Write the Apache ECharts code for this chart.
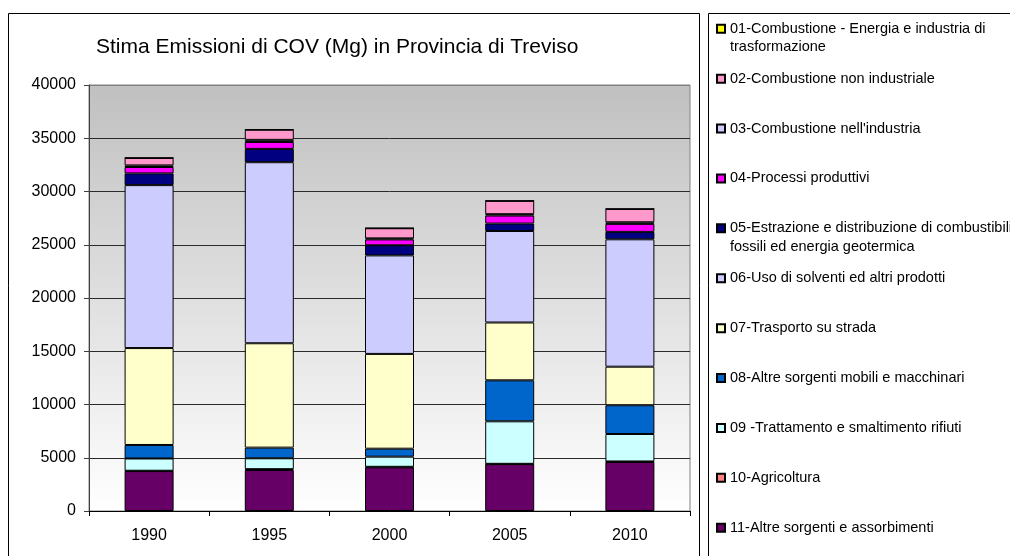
<!DOCTYPE html>
<html>
<head>
<meta charset="utf-8">
<script src="https://cdn.jsdelivr.net/npm/echarts@6/dist/echarts.min.js"></script>
<style>
  html, body { margin: 0; padding: 0; background: #ffffff; }
  #chart { width: 1010px; height: 556px; }
</style>
</head>
<body>
<div id="chart"></div>
<script>
  // anni e valori (Mg)
  const years = ['1990', '1995', '2000', '2005', '2010']
  const s01 = [20, 20, 20, 20, 20]
  const s02 = [700, 950, 950, 1250, 1250]
  const s03 = [150, 200, 100, 130, 150]
  const s04 = [600, 650, 550, 750, 750]
  const s05 = [1100, 1250, 950, 700, 700]
  const s06 = [15300, 17000, 9250, 8590, 11960]
  const s07 = [9100, 9800, 8900, 5430, 3620]
  const s08 = [1270, 1000, 750, 3850, 2700]
  const s09 = [1150, 1020, 950, 3990, 2580]
  const s10 = [30, 80, 50, 30, 50]
  const s11 = [3750, 3850, 4100, 4400, 4600]

  const names = [
    '01-Combustione - Energia e industria di',
    '02-Combustione non industriale',
    '03-Combustione nell\'industria',
    '04-Processi produttivi',
    '05-Estrazione e distribuzione di combustibili',
    '06-Uso di solventi ed altri prodotti',
    '07-Trasporto su strada',
    '08-Altre sorgenti mobili e macchinari',
    '09 -Trattamento e smaltimento rifiuti',
    '10-Agricoltura',
    '11-Altre sorgenti e assorbimenti',
  ]
  const secondLine = {
    0: 'trasformazione',
    4: 'fossili ed energia geotermica',
  }
  const colors = ['#ffff00', '#ff99cc', '#ccccff', '#ff00ff', '#000080', '#ccccff',
    '#ffffcc', '#0066cc', '#ccffff', '#ff8080', '#660066']
  const values = [s01, s02, s03, s04, s05, s06, s07, s08, s09, s10, s11]

  const font = 'Liberation Sans, Arial, sans-serif'

  // impilati dal basso: 11 ... 01
  const series = []
  for (let i = names.length - 1; i >= 0; i--) {
    series.push({
      name: names[i],
      type: 'bar',
      stack: 'tot',
      barWidth: 49,
      data: values[i],
      itemStyle: { color: colors[i], borderColor: '#000', borderWidth: 1 },
    })
  }

  const chart = echarts.init(document.getElementById('chart'), null, { renderer: 'canvas' })
  chart.setOption({
    backgroundColor: '#ffffff',
    animation: false,
    title: {
      text: 'Stima Emissioni di COV (Mg) in Provincia di Treviso',
      left: 91,
      top: 32,
      textStyle: { fontFamily: font, fontSize: 21, fontWeight: 'normal', color: '#000' },
    },
    graphic: [
      { type: 'rect', shape: { x: 8.5, y: 13.5, width: 691, height: 600 },
        style: { fill: 'none', stroke: '#000', lineWidth: 1 }, z: -1 },
      { type: 'rect', shape: { x: 708.5, y: 13.5, width: 400, height: 600 },
        style: { fill: 'none', stroke: '#000', lineWidth: 1 }, z: -1 },
    ],
    legend: {
      orient: 'vertical',
      left: 716,
      top: 1,
      height: 700,
      padding: 0,
      itemWidth: 8,
      itemHeight: 8,
      itemGap: -5.6,
      icon: 'rect',
      data: names,
      formatter: function (name) {
        const i = names.indexOf(name)
        return ' \n' + name + '\n' + (secondLine[i] || ' ')
      },
      textStyle: { fontFamily: font, fontSize: 14.5, lineHeight: 18.5, color: '#000' },
    },
    grid: {
      left: 89,
      right: 320,
      top: 85,
      bottom: 45,
      show: true,
      borderColor: '#808080',
      borderWidth: 1,
      backgroundColor: {
        type: 'linear', x: 0, y: 0, x2: 0, y2: 1,
        colorStops: [{ offset: 0, color: '#c0c0c0' }, { offset: 1, color: '#ffffff' }],
      },
    },
    xAxis: {
      type: 'category',
      data: years,
      axisLine: { lineStyle: { color: '#000', width: 1 } },
      axisTick: { show: true, length: 5, lineStyle: { color: '#000' } },
      axisLabel: { fontFamily: font, fontSize: 16, color: '#000', margin: 17 },
    },
    yAxis: {
      type: 'value',
      min: 0,
      max: 40000,
      interval: 5000,
      axisLine: { show: true, lineStyle: { color: '#404040', width: 1 } },
      axisTick: { show: true, length: 5, lineStyle: { color: '#404040' } },
      axisLabel: {
        fontFamily: font, fontSize: 16, color: '#000', margin: 13,
        formatter: function (v) { return String(v) },
      },
      splitLine: {
        lineStyle: {
          color: ['#2a2a2a', '#2a2a2a', '#2a2a2a', '#2a2a2a', '#2a2a2a', '#2a2a2a', '#2a2a2a', '#2a2a2a', '#808080'],
          width: 1,
        },
      },
    },
    series: series,
  })
  window.onresize = function () {
    chart.resize()
  }
</script>
</body>
</html>
